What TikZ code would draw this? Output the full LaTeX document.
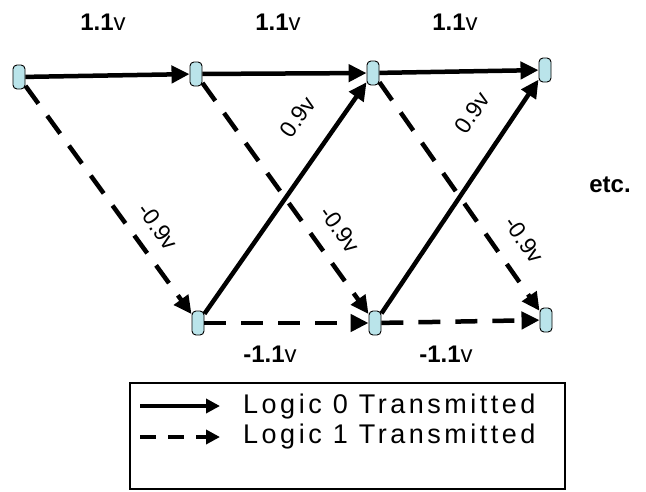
\documentclass[tikz,border=0pt]{standalone}
\usepackage{fontspec}
\setmainfont{Liberation Sans}
\newfontfamily\legfont[LetterSpace=13]{Liberation Sans}
\usetikzlibrary{arrows.meta}
\definecolor{nodefill}{RGB}{186,228,234}
\begin{document}
\begin{tikzpicture}[x=1pt,y=-1pt,
  pt/.style={draw=black,line width=0.9pt,fill=nodefill,rectangle,rounded corners=4pt,minimum width=12pt,minimum height=24pt,inner sep=0pt},
  sig/.style={line width=4.5pt,-{Triangle[length=18pt,width=17pt]}},
  one/.style={sig,dash pattern=on 22pt off 15pt},
  lab/.style={font=\fontsize{24}{26}\selectfont,inner sep=0pt},
  slab/.style={font=\fontsize{23}{25}\selectfont,inner sep=0pt,sloped},
  leg/.style={font=\legfont\fontsize{27}{29}\selectfont,inner sep=0pt,anchor=west}]
\useasboundingbox (0,0) rectangle (646,491);
\node[pt] (A) at (19,77) {};
\node[pt] (B) at (196,74) {};
\node[pt] (C) at (373,73) {};
\node[pt] (D) at (545,70) {};
\node[pt] (E) at (198,323) {};
\node[pt] (F) at (375,323) {};
\node[pt] (G) at (546,320) {};
\draw[sig] (A) -- (B);
\draw[sig] (B) -- (C);
\draw[sig] (C) -- (D);
\draw[one] (A) -- node[slab,pos=0.68,above=14pt] (m1) {-0.9v} (E);
\draw[one] (B) -- node[slab,pos=0.70,above=16pt] (m2) {-0.9v} (F);
\draw[one] (C) -- node[slab,pos=0.76,above=18pt] (m3) {-0.9v} (G);
\draw[sig] (E) -- node[slab,pos=0.76,above=26pt] (p1) {0.9v} (C);
\draw[sig] (F) -- node[slab,pos=0.77,above=26pt] (p2) {0.9v} (D);
\draw[one] (E) -- (F);
\draw[one] (F) -- (G);
\node[lab] (l1) at (103,22) {\textbf{1.1}v};
\node[lab] (l2) at (278,22) {\textbf{1.1}v};
\node[lab] (l3) at (455,22) {\textbf{1.1}v};
\node[lab] (b1) at (270,354) {\textbf{-1.1}v};
\node[lab] (b2) at (446,354) {\textbf{-1.1}v};
\node[lab] (etc) at (610,185) {\textbf{etc.}};
\node[draw=black,line width=1.3pt,minimum width=435pt,minimum height=106pt,inner sep=0pt] (box) at (347.5,436) {};
\coordinate (s0) at (140,406);
\coordinate (s1) at (220,406);
\coordinate (d0) at (140,437);
\coordinate (d1) at (220,437);
\draw[line width=4pt,-{Triangle[length=14pt,width=14pt]}] (s0) -- (s1);
\draw[line width=4pt,dash pattern=on 16pt off 12pt,-{Triangle[length=14pt,width=14pt]}] (d0) -- (d1);
\node[leg] (t0) at (243,407) {Logic 0 Transmitted};
\node[leg] (t1) at (243,437) {Logic 1 Transmitted};
\end{tikzpicture}
\end{document}
